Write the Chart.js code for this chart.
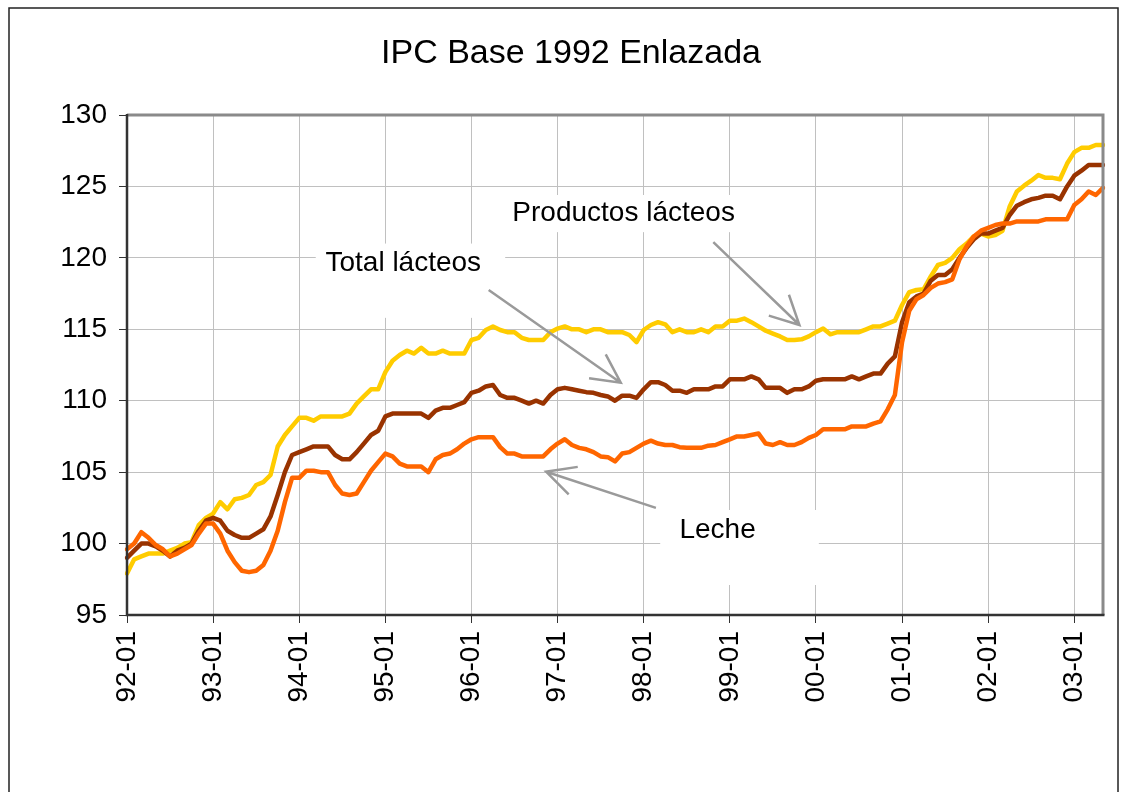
<!DOCTYPE html>
<html>
<head>
<meta charset="utf-8">
<script src="https://cdn.jsdelivr.net/npm/chart.js@4/dist/chart.umd.min.js"></script>
<style>
  html, body { margin: 0; padding: 0; background: #fff; }
  #wrap { width: 1121px; height: 792px; }
</style>
</head>
<body>
<div id="wrap"><canvas id="c" width="1121" height="792"></canvas></div>
<script>
// ---- Data ----
const years = ['92','93','94','95','96','97','98','99','00','01','02','03'];
const monthCount = 137; // 92-01 .. 03-05
const tickLabels = ['92-01','93-01','94-01','95-01','96-01','97-01','98-01','99-01','00-01','01-01','02-01','03-01'];

const productosLacteos = [
  97.9, 98.9, 99.1, 99.3, 99.3, 99.3, 99.5, 99.7, 100.0, 100.1, 101.3, 101.8,
  102.1, 102.9, 102.4, 103.1, 103.2, 103.4, 104.1, 104.3, 104.8, 106.8, 107.6, 108.2,
  108.8, 108.8, 108.6, 108.9, 108.9, 108.9, 108.9, 109.1, 109.8, 110.3, 110.8, 110.8,
  112.0, 112.8, 113.2, 113.5, 113.3, 113.7, 113.3, 113.3, 113.5, 113.3, 113.3, 113.3,
  114.25, 114.4, 114.95, 115.2, 114.95, 114.8, 114.8, 114.4, 114.25, 114.25, 114.25, 114.8,
  115.05, 115.2, 115.0, 115.0, 114.8, 115.0, 115.0, 114.8, 114.8, 114.8, 114.6, 114.1,
  114.95, 115.3, 115.5, 115.35, 114.8, 115.0, 114.8, 114.8, 115.0, 114.8, 115.2, 115.2,
  115.6, 115.6, 115.75, 115.5, 115.2, 114.9, 114.7, 114.5, 114.25, 114.25, 114.3, 114.5,
  114.8, 115.05, 114.65, 114.8, 114.8, 114.8, 114.8, 115.0, 115.2, 115.2, 115.4, 115.6,
  116.7, 117.6, 117.75, 117.8, 118.7, 119.5, 119.65, 120.0, 120.6, 121.0, 121.5, 121.7,
  121.5, 121.6, 121.9, 123.6, 124.65, 125.05, 125.4, 125.8, 125.6, 125.6, 125.5, 126.6,
  127.4, 127.7, 127.7, 127.9, 127.9
];

const totalLacteos = [
  99.0, 99.5, 100.0, 100.0, 99.8, 99.5, 99.1, 99.5, 99.7, 100.0, 100.9, 101.6,
  101.8, 101.6, 100.9, 100.6, 100.4, 100.4, 100.7, 101.0, 101.9, 103.4, 105.0, 106.2,
  106.4, 106.6, 106.8, 106.8, 106.8, 106.2, 105.9, 105.9, 106.4, 107.0, 107.6, 107.9,
  108.9, 109.1, 109.1, 109.1, 109.1, 109.1, 108.8, 109.3, 109.5, 109.5, 109.7, 109.9,
  110.55, 110.7, 111.0, 111.1, 110.4, 110.2, 110.2, 110.0, 109.8, 110.0, 109.8, 110.4,
  110.8, 110.9, 110.8, 110.7, 110.6, 110.55, 110.4, 110.3, 110.0, 110.35, 110.35, 110.2,
  110.8, 111.3, 111.3, 111.1, 110.7, 110.7, 110.55, 110.8, 110.8, 110.8, 111.0, 111.0,
  111.5, 111.5, 111.5, 111.7, 111.5, 110.9, 110.9, 110.9, 110.55, 110.8, 110.8, 111.0,
  111.4, 111.5, 111.5, 111.5, 111.5, 111.7, 111.5, 111.7, 111.9, 111.9, 112.6, 113.1,
  115.5, 116.9, 117.3, 117.5, 118.4, 118.8, 118.8, 119.2, 120.0, 120.7, 121.3, 121.7,
  121.7, 121.9, 122.1, 123.0, 123.65, 123.9, 124.1, 124.2, 124.35, 124.35, 124.1, 125.0,
  125.75, 126.1, 126.5, 126.5, 126.5
];

const leche = [
  99.6, 100.0, 100.8, 100.4, 99.9, 99.6, 99.1, 99.3, 99.6, 99.9, 100.7, 101.4,
  101.4, 100.7, 99.5, 98.7, 98.1, 98.0, 98.1, 98.5, 99.5, 100.9, 102.9, 104.6,
  104.6, 105.1, 105.1, 105.0, 105.0, 104.1, 103.5, 103.4, 103.5, 104.3, 105.1, 105.7,
  106.3, 106.1, 105.6, 105.4, 105.4, 105.4, 105.0, 105.9, 106.2, 106.3, 106.6, 107.0,
  107.3, 107.45, 107.45, 107.45, 106.75, 106.3, 106.3, 106.1, 106.1, 106.1, 106.1, 106.6,
  107.0, 107.3, 106.9, 106.7, 106.6, 106.4, 106.1, 106.05, 105.75, 106.3, 106.4, 106.7,
  107.0, 107.2, 107.0, 106.9, 106.9, 106.75, 106.7, 106.7, 106.7, 106.85, 106.9, 107.1,
  107.3, 107.5, 107.5, 107.6, 107.7, 107.0, 106.9, 107.1, 106.9, 106.9, 107.1, 107.4,
  107.6, 108.0, 108.0, 108.0, 108.0, 108.2, 108.2, 108.2, 108.4, 108.55, 109.4, 110.4,
  114.1, 116.3, 117.1, 117.4, 117.9, 118.2, 118.3, 118.5, 119.9, 120.8, 121.5, 121.9,
  122.1, 122.3, 122.4, 122.4, 122.55, 122.55, 122.55, 122.55, 122.7, 122.7, 122.7, 122.7,
  123.7, 124.1, 124.65, 124.4, 124.9
];

// Month categories "YY-MM"
const months = [];
for (let i = 0; i < monthCount; i++) {
  const y = years[Math.floor(i / 12)];
  const m = String((i % 12) + 1).padStart(2, '0');
  months.push(y + '-' + m);
}

// Annotations (in data units: month index, index value)
const notes = [
  { text: 'Productos lácteos', x: 69.2, y: 123.1, box: [52, 124.4, 86.2, 121.8], arrow: [81.7, 121.1, 93.7, 115.3] },
  { text: 'Total lácteos', x: 38.5, y: 119.6, box: [26.3, 121.0, 52.7, 115.8], arrow: [50.4, 117.75, 68.8, 111.26] },
  { text: 'Leche', x: 82.3, y: 100.95, box: [74.3, 102.35, 96.4, 97.1], arrow: [73.7, 102.5, 58.4, 105.03] }
];

const FONT = '"Liberation Sans", Arial, sans-serif';

const decor = {
  id: 'decor',
  beforeDatasetsDraw(chart) {
    const { ctx, scales: { x, y } } = chart;
    ctx.save();
    ctx.fillStyle = '#ffffff';
    for (const n of notes) {
      const x0 = x.getPixelForValue(n.box[0]);
      const y0 = y.getPixelForValue(n.box[1]);
      const x1 = x.getPixelForValue(n.box[2]);
      const y1 = y.getPixelForValue(n.box[3]);
      ctx.fillRect(x0, y0, x1 - x0, y1 - y0);
    }
    ctx.restore();
  },
  afterDatasetsDraw(chart) {
    const { ctx, chartArea: a, scales: { x, y } } = chart;
    ctx.save();
    // annotation texts
    ctx.fillStyle = '#000';
    ctx.font = '28px ' + FONT;
    ctx.textAlign = 'center';
    ctx.textBaseline = 'middle';
    for (const n of notes) {
      ctx.fillText(n.text, x.getPixelForValue(n.x), y.getPixelForValue(n.y));
    }
    // arrows
    ctx.strokeStyle = '#9a9a9a';
    ctx.lineWidth = 2.5;
    ctx.lineCap = 'butt';
    for (const n of notes) {
      const sx = x.getPixelForValue(n.arrow[0]);
      const sy = y.getPixelForValue(n.arrow[1]);
      const tx = x.getPixelForValue(n.arrow[2]);
      const ty = y.getPixelForValue(n.arrow[3]);
      const ang = Math.atan2(ty - sy, tx - sx);
      const L = 32, w = 0.47;
      ctx.beginPath();
      ctx.moveTo(sx, sy);
      ctx.lineTo(tx, ty);
      ctx.moveTo(tx - L * Math.cos(ang - w), ty - L * Math.sin(ang - w));
      ctx.lineTo(tx, ty);
      ctx.lineTo(tx - L * Math.cos(ang + w), ty - L * Math.sin(ang + w));
      ctx.stroke();
    }
    // plot frame
    ctx.lineWidth = 3;
    ctx.strokeStyle = '#8a8a8a';
    ctx.beginPath();
    ctx.moveTo(a.left, a.top);
    ctx.lineTo(a.right, a.top);
    ctx.lineTo(a.right, a.bottom);
    ctx.stroke();
    ctx.lineWidth = 2.5;
    ctx.strokeStyle = '#333';
    ctx.beginPath();
    ctx.moveTo(a.left, a.top - 1);
    ctx.lineTo(a.left, a.bottom);
    ctx.lineTo(a.right + 1.5, a.bottom);
    ctx.stroke();
    ctx.restore();
  },
  afterDraw(chart) {
    const { ctx } = chart;
    ctx.save();
    // outer border
    ctx.strokeStyle = '#222';
    ctx.lineWidth = 1.5;
    ctx.strokeRect(9, 8, 1109, 900);
    // title
    ctx.fillStyle = '#000';
    ctx.font = '34px ' + FONT;
    ctx.textAlign = 'center';
    ctx.textBaseline = 'alphabetic';
    ctx.fillText('IPC Base 1992 Enlazada', 571, 63);
    ctx.restore();
  }
};

Chart.defaults.font.family = FONT;
Chart.defaults.color = '#000';

new Chart(document.getElementById('c'), {
  type: 'line',
  data: {
    labels: months,
    datasets: [
      { label: 'Leche', data: leche, borderColor: '#FF6600', backgroundColor: '#FF6600' },
      { label: 'Total lácteos', data: totalLacteos, borderColor: '#993300', backgroundColor: '#993300' },
      { label: 'Productos lácteos', data: productosLacteos, borderColor: '#FFCC00', backgroundColor: '#FFCC00' }
    ]
  },
  options: {
    responsive: false,
    animation: false,
    events: [],
    layout: { padding: { left: 0, right: 18, top: 115, bottom: 0 } },
    elements: {
      line: { borderWidth: 4.5, tension: 0, borderJoinStyle: 'round', borderCapStyle: 'round' },
      point: { radius: 0 }
    },
    plugins: {
      legend: { display: false },
      title: { display: false },
      tooltip: { enabled: false }
    },
    scales: {
      x: {
        type: 'category',
        offset: false,
        border: { display: false },
        grid: { color: '#c0c0c0', lineWidth: 1, tickLength: 8, tickColor: '#333', drawOnChartArea: true },
        ticks: {
          autoSkip: false,
          minRotation: 90,
          maxRotation: 90,
          padding: 8,
          font: { size: 28 },
          color: '#000',
          callback: function (v, i) {
            const lab = months[i];
            return tickLabels.includes(lab) ? lab : null;
          }
        },
        afterFit(scale) { scale.height = 177; }
      },
      y: {
        min: 95,
        max: 130,
        border: { display: false },
        grid: { color: '#c0c0c0', lineWidth: 1, tickLength: 8, tickColor: '#333' },
        ticks: { stepSize: 5, padding: 12, font: { size: 28 }, color: '#000' },
        afterFit(scale) { scale.width = 127; }
      }
    }
  },
  plugins: [decor]
});
</script>
</body>
</html>
